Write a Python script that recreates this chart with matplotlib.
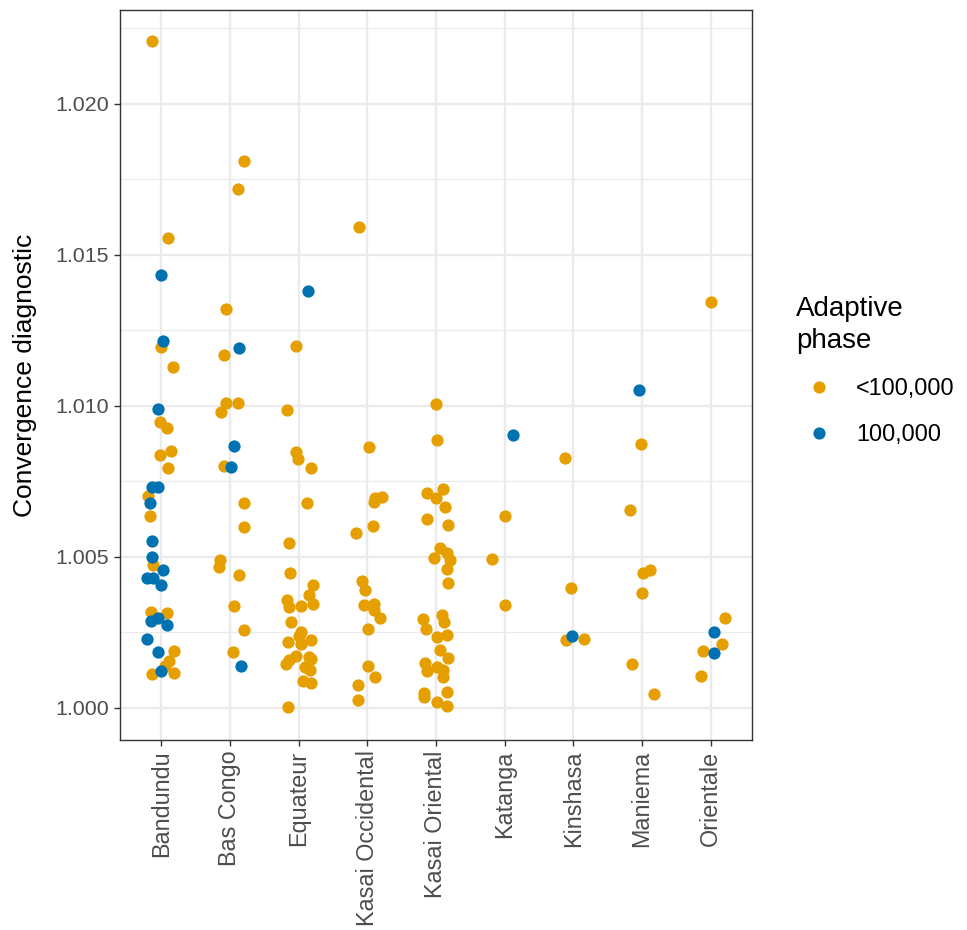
import matplotlib
matplotlib.use("Agg")
import matplotlib.pyplot as plt
from matplotlib.lines import Line2D
from matplotlib.ticker import FixedLocator
import numpy as np

plt.rcParams['font.family'] = ['Liberation Sans', 'DejaVu Sans']

regions = ["Bandundu", "Bas Congo", "Equateur", "Kasai Occidental", "Kasai Oriental",
           "Katanga", "Kinshasa", "Maniema", "Orientale"]
phase_labels = ["<100,000", "100,000"]
phase_colors = ["#E69F00", "#0072B2"]
y_ticks = [1.000, 1.005, 1.010, 1.015, 1.020]

# O = "<100,000", B = "100,000"
bandundu_val = [1.02209, 1.01557, 1.01434, 1.01216, 1.01195, 1.01129, 1.00990, 1.00947, 1.00926,
                1.00838, 1.00852, 1.00793, 1.00732, 1.00732, 1.00703, 1.00678, 1.00637, 1.00553,
                1.00499, 1.00474, 1.00457, 1.00430, 1.00430, 1.00407, 1.00318, 1.00316, 1.00289,
                1.00299, 1.00275, 1.00227, 1.00186, 1.00190, 1.00154, 1.00139, 1.00123, 1.00113,
                1.00117]
bandundu_phase = "OOBBOOBOOOOOBBOBOBBOBBBBOOBBBBBOOOBOO"
bandundu_jit = [-0.135, 0.10, 0.00, 0.03, 0.00, 0.17, -0.05, -0.015, 0.08,
                -0.02, 0.14, 0.10, -0.135, -0.05, -0.19, -0.17, -0.16, -0.13,
                -0.13, -0.126, 0.03, -0.21, -0.126, 0.00, -0.145, 0.077, -0.155,
                -0.05, 0.077, -0.20, -0.05, 0.18, 0.11, 0.06, 0.00, -0.135,
                0.19]

bascongo_val = [1.01812, 1.01719, 1.01321, 1.01192, 1.01170, 1.01011, 1.01011, 1.00979, 1.00869,
                1.00800, 1.00799, 1.00678, 1.00600, 1.00489, 1.00467, 1.00440, 1.00338, 1.00258,
                1.00186, 1.00138]
bascongo_phase = "OOOBOOOOBOBOOOOOOOOB"
bascongo_jit = [0.20, 0.116, -0.05, 0.13, -0.09, -0.05, 0.116, -0.126, 0.06,
                -0.09, 0.02, 0.20, 0.20, -0.15, -0.16, 0.135, 0.06, 0.20,
                0.05, 0.165]

equateur_val = [1.01379, 1.01200, 1.00985, 1.00848, 1.00824, 1.00793, 1.00680, 1.00545, 1.00448,
                1.00407, 1.00375, 1.00343, 1.00358, 1.00333, 1.00337, 1.00285, 1.00253, 1.00237,
                1.00225, 1.00220, 1.00211, 1.00172, 1.00168, 1.00162, 1.00159, 1.00146, 1.00135,
                1.00126, 1.00090, 1.00082, 1.00004]
equateur_phase = "BOOOOOOOOOOOOOOOOOOOOOOOOOOOOOO"
equateur_jit = [0.14, -0.04, -0.17, -0.04, -0.015, 0.18, 0.126, -0.135, -0.12,
                0.21, 0.15, 0.21, -0.165, -0.14, 0.03, -0.116, 0.04, 0.00,
                0.18, -0.155, 0.03, -0.04, 0.15, 0.18, -0.14, -0.18, 0.09,
                0.16, 0.07, 0.18, -0.15]

kasaiocc_val = [1.01593, 1.00865, 1.00697, 1.00694, 1.00681, 1.00602, 1.00581, 1.00421, 1.00392,
                1.00343, 1.00341, 1.00326, 1.00297, 1.00262, 1.00139, 1.00104, 1.00076, 1.00026]
kasaiocc_phase = "OOOOOOOOOOOOOOOOOO"
kasaiocc_jit = [-0.126, 0.02, 0.215, 0.106, 0.10, 0.087, -0.16, -0.07, -0.04,
                0.10, -0.05, 0.10, 0.19, 0.01, 0.01, 0.11, -0.14, -0.14]

kasaior_val = [1.01007, 1.00888, 1.00726, 1.00713, 1.00694, 1.00667, 1.00625, 1.00605, 1.00530,
               1.00512, 1.00498, 1.00490, 1.00459, 1.00415, 1.00308, 1.00295, 1.00285, 1.00262,
               1.00241, 1.00235, 1.00191, 1.00164, 1.00150, 1.00137, 1.00126, 1.00123, 1.00104,
               1.00054, 1.00050, 1.00037, 1.00019, 1.00007]
kasaior_phase = "OOOOOOOOOOOOOOOOOOOOOOOOOOOOOOOO"
kasaior_jit = [0.00, 0.02, 0.10, -0.135, 0.00, 0.125, -0.126, 0.17, 0.06,
               0.155, -0.03, 0.21, 0.155, 0.175, 0.09, -0.19, 0.12, -0.15,
               0.16, 0.02, 0.06, 0.18, -0.16, 0.01, 0.10, -0.135, 0.10,
               0.155, -0.175, -0.17, 0.01, 0.155]

katanga_val = [1.00904, 1.00637, 1.00493, 1.00341]
katanga_phase = "BOOO"
katanga_jit = [0.12, 0.01, -0.185, 0.00]

kinshasa_val = [1.00829, 1.00397, 1.00230, 1.00225, 1.00239]
kinshasa_phase = "OOOOB"
kinshasa_jit = [-0.12, -0.04, 0.16, -0.11, -0.02]

maniema_val = [1.01052, 1.00874, 1.00657, 1.00456, 1.00448, 1.00380, 1.00147, 1.00045]
maniema_phase = "BOOOOOOO"
maniema_jit = [-0.05, -0.02, -0.18, 0.12, 0.01, 0.00, -0.145, 0.18]

orientale_val = [1.01345, 1.00297, 1.00253, 1.00212, 1.00189, 1.00183, 1.00107]
orientale_phase = "OOBOOBO"
orientale_jit = [0.00, 0.21, 0.05, 0.17, -0.12, 0.05, -0.145]

all_vals = [bandundu_val, bascongo_val, equateur_val, kasaiocc_val, kasaior_val,
            katanga_val, kinshasa_val, maniema_val, orientale_val]
all_phase = [bandundu_phase, bascongo_phase, equateur_phase, kasaiocc_phase, kasaior_phase,
             katanga_phase, kinshasa_phase, maniema_phase, orientale_phase]
all_jit = [bandundu_jit, bascongo_jit, equateur_jit, kasaiocc_jit, kasaior_jit,
           katanga_jit, kinshasa_jit, maniema_jit, orientale_jit]

W, H = 967, 930
fig = plt.figure(figsize=(W / 100, H / 100), dpi=100)
ax = fig.add_axes([120 / W, 1 - 740 / H, (752 - 120) / W, (740 - 10) / H])

xs = {"O": [], "B": []}
ys = {"O": [], "B": []}
for i, (vals, ph, jit) in enumerate(zip(all_vals, all_phase, all_jit)):
    for v, p, j in zip(vals, ph, jit):
        xs[p].append(i + j)
        ys[p].append(v)

ax.scatter(xs["O"], ys["O"], s=78, color=phase_colors[0], linewidths=0, zorder=3)
ax.scatter(xs["B"], ys["B"], s=78, color=phase_colors[1], linewidths=0, zorder=4)

ax.set_xlim(-0.6, 8.6)
ax.set_ylim(0.99894, 1.02311)
ax.set_xticks(range(len(regions)))
ax.set_xticklabels(regions, rotation=90, ha='center', va='top')
ax.set_yticks(y_ticks)
ax.set_yticklabels([f"{t:.3f}" for t in y_ticks])
ax.yaxis.set_minor_locator(FixedLocator([0.9975 + 0.005 * k for k in range(6)]))
ax.tick_params(axis='both', which='major', length=4.5, width=1.0, color='#333333',
               labelcolor='#4D4D4D', pad=3.5)
ax.tick_params(axis='y', which='major', labelsize=15.4)
ax.tick_params(axis='x', which='major', labelsize=16.8, pad=3.0)
ax.tick_params(axis='y', which='minor', length=0)
ax.set_axisbelow(True)
ax.grid(True, which='major', color='#EBEBEB', linewidth=1.7)
ax.grid(True, which='minor', axis='y', color='#EBEBEB', linewidth=0.9)
for sp in ax.spines.values():
    sp.set_color('#333333')
    sp.set_linewidth(1.0)

fig.text(25 / W, 1 - 375 / H, "Convergence diagnostic", rotation=90, ha='center', va='center',
         fontsize=19, color='black')

handles = [Line2D([], [], marker='o', linestyle='none', markersize=8.8,
                  markerfacecolor=c, markeredgewidth=0) for c in phase_colors]
leg = fig.legend(handles, phase_labels, title="Adaptive\nphase", loc='upper left',
                 bbox_to_anchor=(796 / W, 1 - 296 / H), frameon=False, fontsize=16.8,
                 title_fontsize=20, alignment='left', borderpad=0, borderaxespad=0,
                 handlelength=2.0, handletextpad=0.58, labelspacing=0.98)
leg.get_title().set_linespacing(1.32)
for t in leg.get_texts():
    t.set_color('black')

fig.savefig("out.png", dpi=100)
